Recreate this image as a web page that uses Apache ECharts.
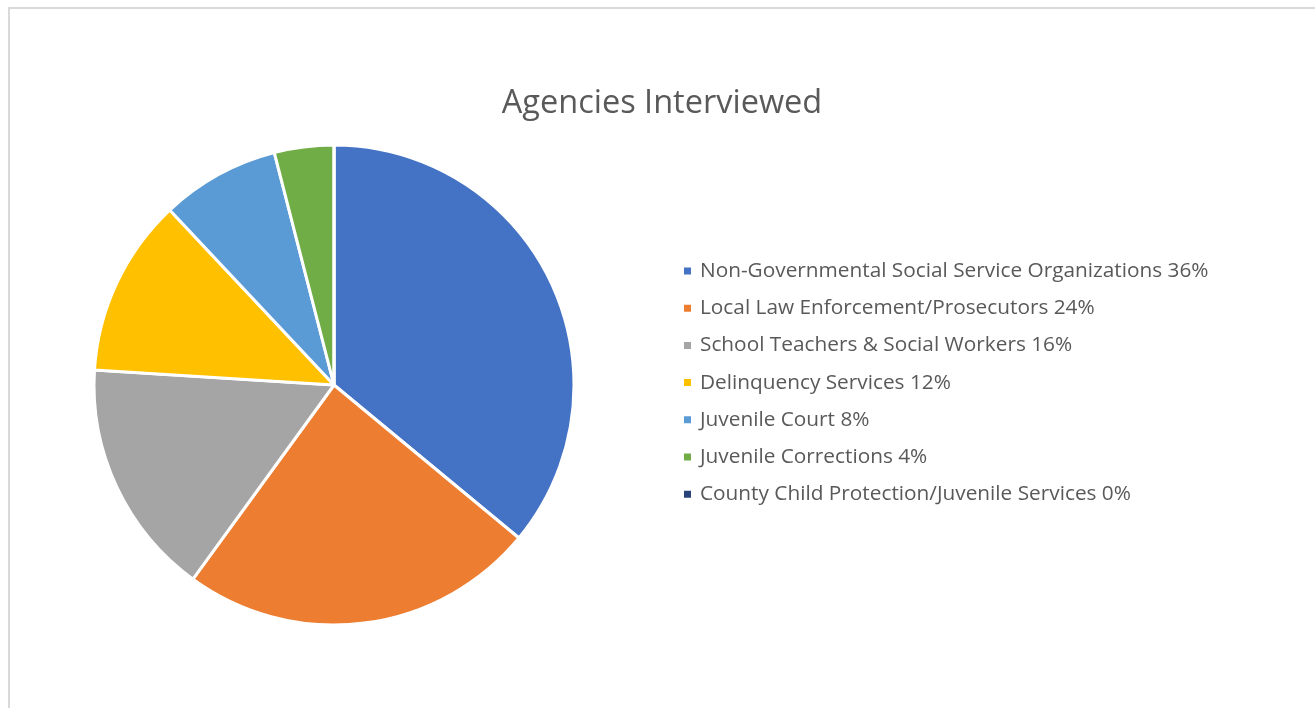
<!DOCTYPE html>
<html>
<head>
<meta charset="utf-8">
<script src="https://cdn.jsdelivr.net/npm/echarts@6/dist/echarts.min.js"></script>
<style>
html,body{margin:0;padding:0;background:#fff;}
#frame{position:absolute;left:8px;top:7px;width:1320px;height:720px;border-left:2px solid #d9d9d9;border-top:2px solid #d9d9d9;}
#chart{position:absolute;left:0;top:0;width:1315px;height:708px;}
</style>
</head>
<body>
<div id="frame"></div>
<div id="chart"></div>
<script>
const categories = [
  "Non-Governmental Social Service Organizations",
  "Local Law Enforcement/Prosecutors",
  "School Teachers & Social Workers",
  "Delinquency Services",
  "Juvenile Court",
  "Juvenile Corrections",
  "County Child Protection/Juvenile Services"
];
const values = [36, 24, 16, 12, 8, 4, 0];
const colors = ["#4472C4", "#ED7D31", "#A5A5A5", "#FFC000", "#5B9BD5", "#70AD47", "#264478"];

const lookup = {};
categories.forEach((c, i) => lookup[c] = values[i]);

const chart = echarts.init(document.getElementById('chart'), null, {renderer: 'canvas'});
chart.setOption({
  backgroundColor: 'transparent',
  animation: false,
  color: colors,
  title: {
    text: 'Agencies Interviewed',
    left: 662,
    top: 82,
    padding: 0,
    textAlign: 'center',
    textStyle: {fontFamily: 'Open Sans', fontSize: 32.5, lineHeight: 44, fontWeight: 'normal', color: '#595959'}
  },
  legend: {
    orient: 'vertical',
    left: 682,
    top: 259,
    padding: 0,
    itemWidth: 9,
    itemHeight: 9,
    itemGap: 13.2,
    icon: 'rect',
    textStyle: {fontFamily: 'Open Sans', fontSize: 20.8, lineHeight: 24, color: '#595959', padding: [0,0,0,3]},
    formatter: name => name + ' ' + lookup[name] + '%',
    data: categories
  },
  series: [{
    type: 'pie',
    center: [334, 385],
    radius: 240,
    startAngle: 90,
    clockwise: true,
    label: {show: false},
    labelLine: {show: false},
    emphasis: {disabled: true},
    itemStyle: {borderColor: '#fff', borderWidth: 3},
    data: categories.map((c, i) => ({name: c, value: values[i]}))
  }]
});
</script>
</body>
</html>
